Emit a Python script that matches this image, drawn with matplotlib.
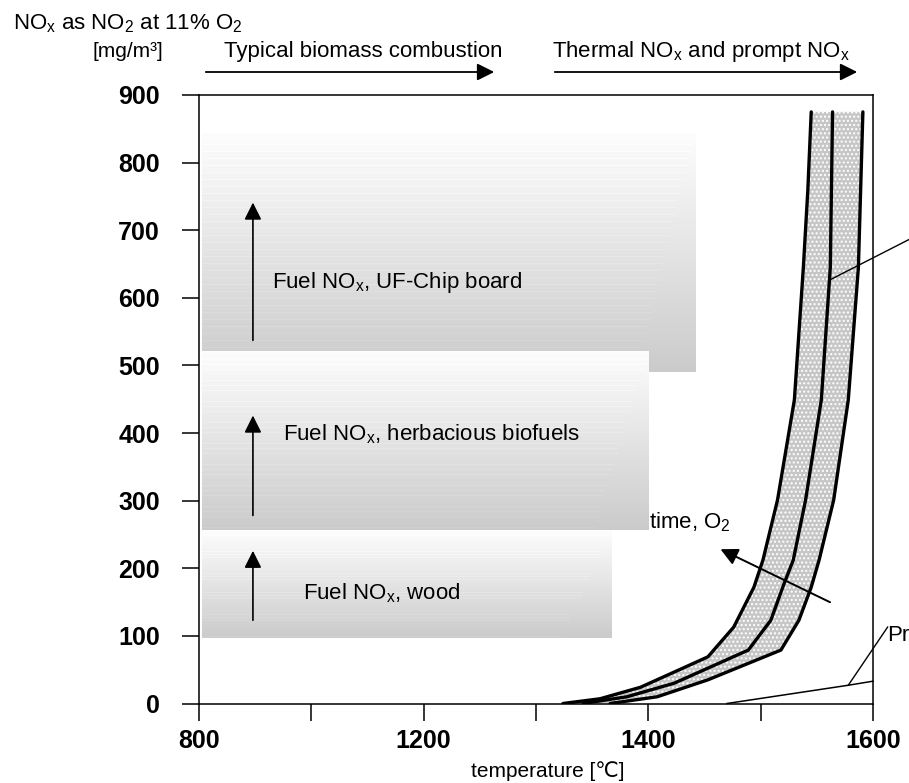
import numpy as np
import matplotlib
matplotlib.use('Agg')
import matplotlib.pyplot as plt
from matplotlib.patches import Rectangle, FancyArrowPatch
from matplotlib.colors import LinearSegmentedColormap

plt.rcParams['font.family'] = ['Liberation Sans', 'DejaVu Sans']
plt.rcParams['mathtext.default'] = 'regular'

# thermal NOx band: lower/middle/upper curves (temperature C, mg/m3)
left_t = [1324, 1357, 1393, 1453, 1476, 1494, 1502, 1515, 1530, 1538, 1542, 1545]
left_v = [0, 7, 24, 69, 113, 172, 212, 301, 449, 645, 760, 875]
mid_t = [1342, 1381, 1423, 1489, 1509, 1521, 1529, 1540, 1554, 1562, 1563, 1564]
mid_v = [0, 10, 30, 79, 123, 178, 212, 301, 449, 645, 760, 875]
right_t = [1366, 1408, 1453, 1518, 1534, 1545, 1552, 1565, 1578, 1587, 1589, 1591]
right_v = [0, 10, 35, 79, 123, 172, 212, 301, 449, 645, 760, 875]

# prompt NOx
prompt_t = [1470, 1578, 1600]
prompt_v = [0, 27, 33]

# fuel NOx ranges
box_labels = ['Fuel NO$_x$, UF-Chip board', 'Fuel NO$_x$, wood', 'Fuel NO$_x$, herbacious biofuels']
box_t0 = [805, 805, 805]
box_t1 = [1442, 1367, 1400]
box_lo = [490, 97, 256]
box_hi = [844, 256, 521]
arrow_lo = [533, 119, 274]
arrow_hi = [745, 230, 430]
text_t = [930, 985, 950]
text_v = [623, 163, 399]

xticks = [800, 1000, 1200, 1300, 1400, 1500, 1600]
xlabels = ['800', '', '1200', '', '1400', '', '1600']


def fwd(t):
    t = np.asarray(t, dtype=float)
    return np.where(t < 1200, (t - 800) / 2.0, t - 1000)


def inv(f):
    f = np.asarray(f, dtype=float)
    return np.where(f < 200, 800 + 2 * f, f + 1000)


fig = plt.figure(figsize=(9.09, 7.83), dpi=100)
ax = fig.add_axes([199 / 909, 1 - 703.5 / 783, 674 / 909, 608.5 / 783])
ax.set_xscale('function', functions=(fwd, inv))

cmap = LinearSegmentedColormap.from_list('g', ['#fdfdfd', '#cbcbcb'])
for i in range(3):
    # gradient with faint horizontal streaks
    x0f = fwd(box_t0[i]) / 600
    x1f = fwd(box_t1[i]) / 600
    nrow, ncol = 240, 300
    img = np.linspace(0, 1, nrow)[:, None] * np.ones((1, ncol))
    cols = np.linspace(x0f, x1f, ncol)
    for r in range(12, nrow, 7):
        end = x1f - (x1f - x0f) * 0.12 * r / nrow
        img[r, cols < end] -= 0.10
    img = np.clip(img, 0, 1)
    rect = Rectangle((box_t0[i], box_lo[i]), box_t1[i] - box_t0[i], box_hi[i] - box_lo[i],
                     fc='none', ec='none')
    ax.add_patch(rect)
    im = ax.imshow(img, cmap=cmap, vmin=0, vmax=1, aspect='auto', origin='upper',
                   extent=(x0f, x1f, box_lo[i] / 900, box_hi[i] / 900),
                   transform=ax.transAxes, zorder=1, interpolation='nearest')
    im.set_clip_path(rect)
    ax.annotate('', xy=(896, arrow_hi[i]), xytext=(896, arrow_lo[i]),
                arrowprops=dict(arrowstyle='-|>', color='black', lw=1.2, mutation_scale=26),
                zorder=3)
    ax.text(text_t[i], text_v[i], box_labels[i], fontsize=16, va='center', ha='left', zorder=3)

# band fill
poly_t = left_t + right_t[::-1]
poly_v = left_v + right_v[::-1]
ax.fill(poly_t, poly_v, facecolor='#c6c6c6', edgecolor='white', hatch='....', lw=0, zorder=2)
for ts, vs in [(left_t, left_v), (mid_t, mid_v), (right_t, right_v)]:
    ax.plot(ts, vs, color='black', lw=2.4, solid_capstyle='round',
            solid_joinstyle='round', zorder=4)

ax.plot(prompt_t, prompt_v, color='black', lw=1.1, zorder=4, clip_on=False)
ax.plot([1578, 1613], [27, 113], color='black', lw=1.0, clip_on=False)
ax.text(1613, 101, 'Pr', fontsize=16, va='center', ha='left', clip_on=False)
ax.plot([1561, 1640], [626, 693], color='black', lw=1.0, clip_on=False, zorder=5)

# residence time arrow
ax.annotate('', xy=(1462, 230), xytext=(1564, 148),
            arrowprops=dict(arrowstyle='-|>', color='black', lw=1.4, mutation_scale=26),
            zorder=5)
ax.text(1401, 268, 'time, O$_2$', fontsize=16, va='center', ha='left')

ax.set_xlim(800, 1600)
ax.set_ylim(0, 900)
ax.set_xticks(xticks)
ax.set_xticklabels(xlabels)
ax.set_yticks(range(0, 901, 100))
ax.tick_params(axis='x', direction='out', length=12, width=1.1, pad=6, labelsize=18)
ax.tick_params(axis='y', direction='out', length=12, width=1.1, pad=16, labelsize=18)
for lab in ax.get_xticklabels() + ax.get_yticklabels():
    lab.set_fontweight('bold')
for s in ax.spines.values():
    s.set_linewidth(1.1)

# header texts and arrows
fig.text(13 / 909, 1 - 29 / 783, 'NO$_x$ as NO$_2$ at 11% O$_2$', fontsize=16, va='baseline', ha='left')
fig.text(163 / 909, 1 - 57 / 783, '[mg/m³]', fontsize=15, va='baseline', ha='right')
fig.text(224 / 909, 1 - 57 / 783, 'Typical biomass combustion', fontsize=16, va='baseline', ha='left')
fig.text(552 / 909, 1 - 57 / 783, 'Thermal NO$_x$ and prompt NO$_x$', fontsize=16, va='baseline', ha='left')
for x0, x1 in [(203, 497), (552, 860)]:
    fig.add_artist(FancyArrowPatch(
        (x0 / 909, 1 - 72 / 783), (x1 / 909, 1 - 72 / 783), transform=fig.transFigure,
        arrowstyle='-|>', mutation_scale=26, color='black', lw=1.3))

fig.text(548 / 909, 1 - 771 / 783, 'temperature [℃]', fontsize=15, va='center', ha='center')

fig.savefig('out.png', dpi=100)
